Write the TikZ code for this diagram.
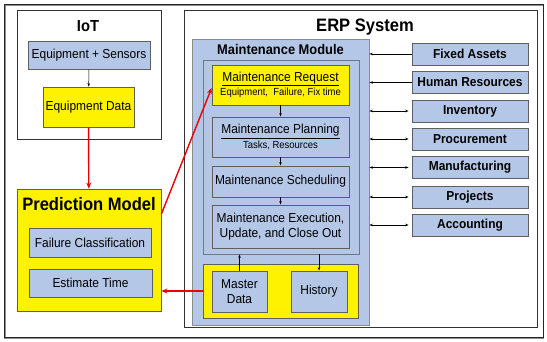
\documentclass[tikz,border=0pt]{standalone}
\usepackage{fontspec}
\setmainfont[FakeStretch=0.92]{Liberation Sans}
\usetikzlibrary{arrows.meta}

\definecolor{boxblue}{RGB}{180,199,231}
\definecolor{boxline}{RGB}{95,95,95}
\definecolor{arrred}{RGB}{235,0,0}

\tikzset{
  panel/.style={draw=black!80, line width=0.9pt, fill=white},
  bluebox/.style={draw=boxline, line width=0.8pt, fill=boxblue, align=center, inner sep=0pt},
  yellowbox/.style={draw=boxline, line width=0.8pt, fill=yellow, align=center, inner sep=0pt},
  title/.style={font=\bfseries\fontsize{18}{20}\selectfont},
  plain/.style={font=\fontsize{13}{15}\selectfont},
  modbox/.style={bluebox, minimum width=116pt, minimum height=22pt, font=\bfseries\fontsize{13}{15}\selectfont},
  smallarr/.style={-{Stealth[length=3.5pt,width=2.5pt]}, black, line width=0.5pt},
  botharr/.style={{Stealth[length=3.5pt,width=2.5pt]}-{Stealth[length=3.5pt,width=2.5pt]}, black, line width=0.5pt},
  redarr/.style={-{Stealth[length=6pt,width=5pt]}, arrred, line width=1.4pt}
}

\begin{document}
\begin{tikzpicture}[x=1pt, y=-1pt]
  \useasboundingbox (0,0) rectangle (547,341);

  % outer frame
  \draw[black!45, line width=1.5pt] (5,5.5) rectangle (543.5,338.5);
  \draw[black!85, line width=0.7pt] (4,4) rectangle (543,337);

  % IoT part
  \node[panel, minimum width=144pt, minimum height=129pt] (iot) at (89,74.5) {};
  \node[font=\bfseries\fontsize{16}{18}\selectfont] (iottitle) at (88,26) {IoT};
  \node[bluebox, plain, minimum width=122pt, minimum height=28pt] (sensors) at (89,55) {Equipment + Sensors};
  \node[yellowbox, plain, minimum width=91pt, minimum height=40pt] (eqdata) at (88.5,107) {Equipment Data};

  % prediction model
  \node[yellowbox, minimum width=144pt, minimum height=122pt] (pred) at (89,250) {};
  \node[title] (predtitle) at (89,204) {Prediction Model};
  \node[bluebox, plain, minimum width=122pt, minimum height=29pt] (failcls) at (90,242.5) {Failure Classification};
  \node[bluebox, plain, minimum width=123pt, minimum height=28pt] (esttime) at (90.5,283) {Estimate Time};

  % ERP system
  \node[panel, minimum width=353pt, minimum height=317pt] (erp) at (360.5,168.5) {};
  \node[title] (erptitle) at (365,27) {ERP System};

  % maintenance module
  \node[bluebox, draw=black!45, minimum width=177pt, minimum height=286pt] (module) at (280.5,182) {};
  \node[font=\bfseries\fontsize{14}{16}\selectfont] (modtitle) at (280.5,49) {Maintenance Module};
  \node[bluebox, draw=boxblue!60!black, line width=0.6pt, minimum width=156pt, minimum height=194pt] (inner) at (281,157) {};

  \node[yellowbox, minimum width=137pt, minimum height=40pt] (request) at (280.5,85)
    {\fontsize{13}{14}\selectfont\underline{Maintenance Request}\\[1pt]\fontsize{10.3}{12}\selectfont Equipment,\ \ Failure, Fix time};
  \node[bluebox, minimum width=137pt, minimum height=40pt] (planning) at (280.5,137)
    {\fontsize{13}{14}\selectfont\underline{Maintenance Planning}\\[1pt]\fontsize{10.3}{12}\selectfont Tasks, Resources};
  \node[bluebox, plain, minimum width=137pt, minimum height=31pt] (scheduling) at (280.5,181.5) {Maintenance Scheduling};
  \node[bluebox, plain, minimum width=137pt, minimum height=43pt] (execution) at (280.5,226.5)
    {Maintenance Execution,\\Update, and Close Out};

  % data store
  \node[yellowbox, minimum width=155pt, minimum height=54pt] (store) at (280.5,291) {};
  \node[bluebox, plain, minimum width=55pt, minimum height=41pt] (master) at (239.5,291.5) {Master\\Data};
  \node[bluebox, plain, minimum width=56pt, minimum height=41pt] (history) at (319,291.5) {History};

  % other ERP modules
  \node[modbox] (fixed) at (470,54) {Fixed Assets};
  \node[modbox] (hr) at (470,82.5) {Human Resources};
  \node[modbox] (inventory) at (470,111) {Inventory};
  \node[modbox] (procure) at (470,139) {Procurement};
  \node[modbox] (manuf) at (470,167.5) {Manufacturing};
  \node[modbox] (projects) at (470,197) {Projects};
  \node[modbox] (account) at (470,225) {Accounting};

  % flow inside
  \draw[smallarr] (sensors) -- (eqdata);
  \draw[smallarr] (request) -- (planning);
  \draw[smallarr] (planning) -- (scheduling);
  \draw[smallarr] (scheduling) -- (execution);
  \draw[smallarr] (master.north) -- (master.north |- inner.south);
  \draw[smallarr] (inner.south -| history.north) -- (history.north);

  % links to the module
  \draw[smallarr] (fixed.west) -- (fixed.west -| module.east);
  \draw[smallarr] (hr.west) -- (hr.west -| module.east);
  \foreach \m in {inventory, procure, manuf, projects, account}
    \draw[botharr] ([xshift=-3pt]\m.west) -- (\m.west -| module.east);

  % red links
  \draw[redarr] (eqdata) -- (pred);
  \draw[redarr] ([yshift=36pt]pred.east) -- ([yshift=-3pt]request.west);
  \draw[redarr] (store.west) -- (store.west -| pred.east);
\end{tikzpicture}
\end{document}
